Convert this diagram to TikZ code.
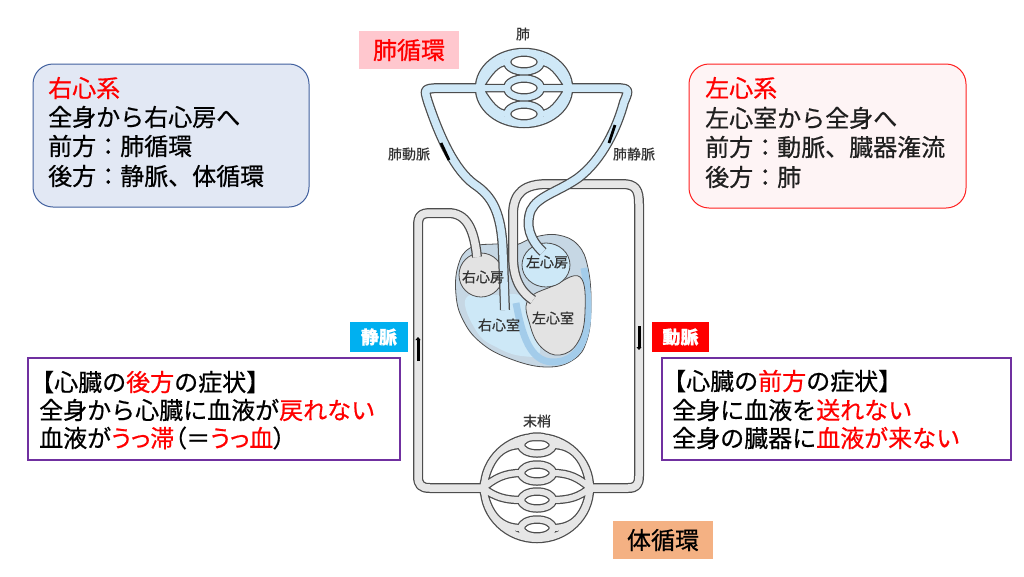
\documentclass[tikz,border=0pt]{standalone}
\usepackage{fontspec}
\setmainfont{Noto Sans CJK JP}[RawFeature={embolden=0.6}]
\newfontfamily\proptext{Noto Sans CJK JP}[RawFeature={+palt;embolden=0.6}]
\usetikzlibrary{arrows.meta}
\definecolor{tubeline}{HTML}{4D4D4D}
\definecolor{tubeblue}{HTML}{CFE8F7}
\definecolor{tubegray}{HTML}{E6E6E6}
\definecolor{heartwall}{HTML}{C6D7E4}
\definecolor{bandblue}{HTML}{A3CCEA}
\definecolor{chamblue}{HTML}{CDE8F7}
\definecolor{chamgray}{HTML}{E3E3E3}
\definecolor{boxblue}{HTML}{E2E8F4}
\definecolor{boxblueline}{HTML}{41609E}
\definecolor{boxpink}{HTML}{FEF4F5}
\definecolor{boxredline}{HTML}{FF2020}
\definecolor{purpleline}{HTML}{7030A0}
\definecolor{tagpink}{HTML}{FFC7CE}
\definecolor{tagorange}{HTML}{F4B183}
\definecolor{tagcyan}{HTML}{00B0F0}
\definecolor{lbltext}{HTML}{333333}
\definecolor{darktext}{HTML}{1F1F1F}
\tikzset{
  bigtxt/.style={inner sep=0pt, anchor=west, font=\fontsize{24pt}{28pt}\selectfont},
  lbl/.style={inner sep=0pt, text=lbltext, font=\fontsize{14pt}{16pt}\selectfont},
  outmain/.style={draw=tubeline, line width=10pt, line join=round},
  outcap/.style={draw=tubeline, line width=8.5pt, line join=round},
  inblue/.style={draw=tubeblue, line width=7.5pt, line join=round},
  inbluecap/.style={draw=tubeblue, line width=6pt, line join=round},
  ingray/.style={draw=tubegray, line width=7.5pt, line join=round},
  ingraycap/.style={draw=tubegray, line width=6pt, line join=round},
  chamber/.style={draw=tubeline, line width=0.8pt},
  marker/.style={draw=black, line width=2.8pt},
  markarrow/.style={draw=black, line width=3pt, -{Triangle[length=3pt,width=5pt]}},
  tag/.style={inner sep=0pt, text=white, font=\fontsize{18pt}{20pt}\selectfont\bfseries},
  bigtag/.style={inner sep=0pt, minimum width=100pt, minimum height=38pt, font=\fontsize{24pt}{28pt}\selectfont},
}
\def\graymain{(533,300) .. controls (518,290) and (513,275) .. (513,255) -- (513,215) .. controls (513,192) and (525,184) .. (548,184) -- (622,184) .. controls (636,184) and (639,190) .. (639,204) -- (639,476) .. controls (639,485) and (636,488) .. (628,488) -- (590,488)
 (483,488) -- (430,488) .. controls (421,488) and (418,485) .. (418,476) -- (418,226) .. controls (418,216) and (421,213) .. (431,213) -- (448,213) .. controls (466,213) and (474,228) .. (477,257)}
\def\graycap{(537,488) ellipse [x radius=53pt, y radius=51pt]
 (483,488) .. controls (488,460) and (500,445) .. (521,445) (553,445) .. controls (574,445) and (586,460) .. (590,488)
 (483,488) .. controls (495,478) and (505,473) .. (521,473) (553,473) .. controls (569,473) and (579,478) .. (590,488)
 (483,488) .. controls (495,497) and (505,500) .. (521,500) (553,500) .. controls (569,500) and (579,497) .. (590,488)
 (483,488) .. controls (488,515) and (500,528) .. (521,528) (553,528) .. controls (574,528) and (586,515) .. (590,488)
 (537,445) ellipse [x radius=16pt, y radius=8.5pt]
 (537,473) ellipse [x radius=16pt, y radius=8.5pt]
 (537,500) ellipse [x radius=16pt, y radius=8.5pt]
 (537,528) ellipse [x radius=16pt, y radius=8.5pt]}
\def\bluemain{(505,310) -- (503,255) .. controls (502,212) and (492,196) .. (474,184) .. controls (455,170) and (440,138) .. (428,102) .. controls (424,89) .. (437,88) -- (479,88)
 (569,88) -- (608,88) .. controls (630,88) .. (624,102) .. controls (617,128) and (602,160) .. (578,178) .. controls (558,192) and (538,196) .. (531,210) .. controls (525,225) and (530,240) .. (543,252)}
\def\bluecap{(524,88) ellipse [x radius=45pt, y radius=36pt]
 (479,88) .. controls (489,72) and (496,62) .. (507,62) (541,62) .. controls (552,62) and (559,72) .. (569,88)
 (479,88) .. controls (489,104) and (496,114) .. (507,114) (541,114) .. controls (552,114) and (559,104) .. (569,88)
 (479,88) -- (507,88) (541,88) -- (569,88)
 (524,62) ellipse [x radius=17pt, y radius=9.5pt]
 (524,88) ellipse [x radius=17pt, y radius=9.5pt]
 (524,114) ellipse [x radius=17pt, y radius=9.5pt]}
\begin{document}
\begin{tikzpicture}[x=1pt,y=-1pt]
\fill[white] (0,0) rectangle (1024,576);
\useasboundingbox (0,0) rectangle (1024,576);

% ---- heart ----
\filldraw[fill=heartwall, chamber] plot[smooth cycle, tension=0.7] coordinates {(470,248) (458,266) (456,295) (463,320) (480,342) (508,358) (545,367) (573,360) (587,340) (591,305) (588,268) (578,245) (558,235) (535,237) (515,245) (495,244)};
\fill[chamblue] plot[smooth cycle, tension=0.7] coordinates {(466,298) (500,295) (522,297) (530,322) (540,352) (522,356) (498,348) (477,332)};
\draw[bandblue, line width=7pt] (584,268) .. controls (593,320) and (588,362) .. (553,362) .. controls (530,362) and (522,335) .. (516,303);
\filldraw[fill=chamgray, chamber] (481,275) ellipse [x radius=22pt, y radius=22pt];
\filldraw[fill=chamgray, chamber] plot[smooth cycle, tension=0.7] coordinates {(528,300) (553,286) (580,277) (585,312) (578,342) (560,355) (541,347) (530,325)};
\filldraw[fill=chamblue, chamber] (546,265) ellipse [x radius=24pt, y radius=22pt];

% ---- systemic vessels ----
\draw[outmain] \graymain;
\draw[outcap] \graycap;
\draw[ingray] \graymain;
\draw[ingraycap] \graycap;

% ---- pulmonary vessels ----
\draw[outmain] \bluemain;
\draw[outcap] \bluecap;
\draw[inblue] \bluemain;
\draw[inbluecap] \bluecap;

% ---- flow markers ----
\draw[marker] (441,143) -- (449,160);
\draw[marker] (615,125) -- (609,143);
\draw[markarrow] (418,361) -- (418,337);
\draw[markarrow] (639,326) -- (639,350);

% ---- diagram labels ----
\node[lbl] (lung) at (523,34) {肺};
\node[lbl] (pa) at (409,154) {肺動脈};
\node[lbl] (pv) at (634,154) {肺静脈};
\node[lbl] (ra) at (483,277) {右心房};
\node[lbl] (la) at (547,262) {左心房};
\node[lbl] (rv) at (499,325) {右心室};
\node[lbl] (lv) at (553,318) {左心室};
\node[lbl] (peri) at (537,421) {末梢};

% ---- tags ----
\node[bigtag, fill=tagpink, text=red] (pulm) at (409,50) {肺循環};
\node[bigtag, fill=tagorange, text=black] (syst) at (663,540) {体循環};
\node[tag, fill=tagcyan, minimum width=58pt, minimum height=30pt] (vein) at (379,337) {静脈};
\node[tag, fill=red, minimum width=57pt, minimum height=30pt] (artery) at (680.5,337) {動脈};

% ---- upper boxes ----
\node[draw=boxblueline, fill=boxblue, line width=1pt, rounded corners=20pt, minimum width=276pt, minimum height=143pt, inner sep=0pt] (rbox) at (171,135.5) {};
\node[bigtxt, text=red] (t1) at (48,88) {右心系};
\node[bigtxt] (t2) at (48,117) {全身から右心房へ};
\node[bigtxt] (t3) at (48,146) {前方：肺循環};
\node[bigtxt] (t4) at (48,176) {後方：静脈、体循環};

\node[draw=boxredline, fill=boxpink, line width=1pt, rounded corners=20pt, minimum width=277pt, minimum height=144pt, inner sep=0pt] (lbox) at (827.5,136) {};
\node[bigtxt, text=red] (r1) at (705,88) {左心系};
\node[bigtxt, text=darktext] (r2) at (705,118) {左心室から全身へ};
\node[bigtxt, text=darktext] (r3) at (705,147) {前方：動脈、臓器潅流};
\node[bigtxt, text=darktext] (r4) at (705,177) {後方：肺};

% ---- lower boxes ----
\node[draw=purpleline, fill=white, line width=1.8pt, minimum width=372pt, minimum height=102pt, inner sep=0pt] (backbox) at (214,409) {};
\node[bigtxt] (l1) at (30,382) {【心臓の\textcolor{red}{後方}の症状】};
\node[bigtxt] (l2) at (39,410) {全身から心臓に血液が\textcolor{red}{戻れない}};
\node[bigtxt] (l3) at (39,438) {血液が{\proptext\textcolor{red}{うっ滞}（＝\textcolor{red}{うっ血}）}};

\node[draw=purpleline, fill=white, line width=1.8pt, minimum width=349pt, minimum height=102pt, inner sep=0pt] (frontbox) at (836.5,409) {};
\node[bigtxt] (q1) at (662,381) {【心臓の\textcolor{red}{前方}の症状】};
\node[bigtxt] (q2) at (672,410) {全身に血液を\textcolor{red}{送れない}};
\node[bigtxt] (q3) at (672,438) {全身の臓器に\textcolor{red}{血液が来ない}};
\end{tikzpicture}
\end{document}
